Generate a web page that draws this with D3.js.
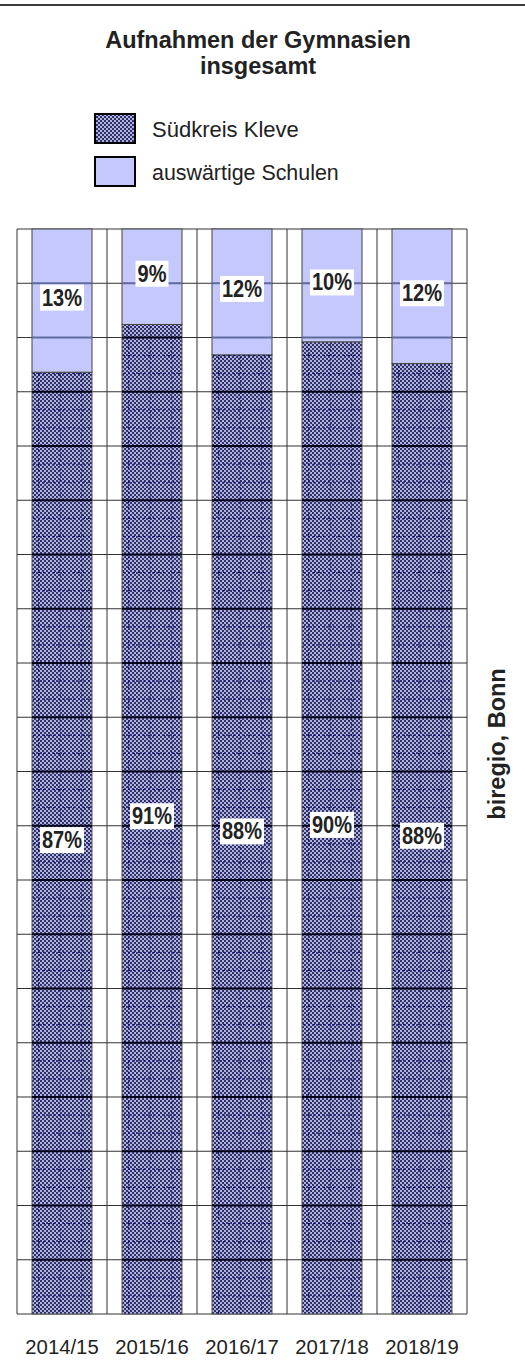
<!DOCTYPE html>
<html>
<head>
<meta charset="utf-8">
<script src="https://cdn.jsdelivr.net/npm/d3@7"></script>
<style>
    body { margin: 0; background: #fff; }
    svg text { font-family: "Liberation Sans", Arial, sans-serif; }
</style>
</head>
<body>
<div class="chart"></div>
<script>
const categories = ["2014/15", "2015/16", "2016/17", "2017/18", "2018/19"];
const suedkreis = [86.8, 91.2, 88.4, 89.6, 87.6];
const auswaertig = [13.2, 8.8, 11.6, 10.4, 12.4];
const seriesNames = ["Südkreis Kleve", "auswärtige Schulen"];
const yTicks = d3.range(0, 101, 5);

const width = 525, height = 1371;
const plot = { left: 17, right: 467, top: 229, bottom: 1314 };
const lightColor = "#c4c8fc";

const svg = d3.select(".chart")
    .append("svg")
    .attr("width", width)
    .attr("height", height);

svg.append("rect").attr("width", width).attr("height", height).attr("fill", "#fff");

// checkered fill used for the Südkreis segment
const defs = svg.append("defs");
const pat = defs.append("pattern")
    .attr("id", "checker")
    .attr("patternUnits", "userSpaceOnUse")
    .attr("width", 4).attr("height", 4);
pat.append("rect").attr("width", 4).attr("height", 4).attr("fill", "#aeb2ea");
pat.append("rect").attr("width", 2).attr("height", 2).attr("fill", "#32325a");
pat.append("rect").attr("x", 2).attr("y", 2).attr("width", 2).attr("height", 2).attr("fill", "#32325a");

// top rule
svg.append("line")
    .attr("x1", 0).attr("x2", width).attr("y1", 5).attr("y2", 5)
    .attr("stroke", "#3a3a3a").attr("stroke-width", 2);

// Title
svg.append("text")
    .attr("x", 258).attr("y", 48)
    .attr("text-anchor", "middle")
    .attr("font-weight", "bold").attr("font-size", 23.5).attr("fill", "#222")
    .text("Aufnahmen der Gymnasien");
svg.append("text")
    .attr("x", 258).attr("y", 74)
    .attr("text-anchor", "middle")
    .attr("font-weight", "bold").attr("font-size", 23.5).attr("fill", "#222")
    .text("insgesamt");

// Legend
const legend = svg.append("g");
[0, 1].forEach((i) => {
    legend.append("rect")
        .attr("x", 95).attr("y", 114 + i * 43)
        .attr("width", 40).attr("height", 29)
        .attr("fill", i === 0 ? "url(#checker)" : lightColor)
        .attr("stroke", "#000").attr("stroke-width", 2);
    legend.append("text")
        .attr("x", 152).attr("y", 137 + i * 43)
        .attr("font-size", i === 0 ? 22 : 21.4).attr("fill", "#222")
        .text(seriesNames[i]);
});

// Scales
const scaleX = d3.scaleBand()
    .domain(categories)
    .range([plot.left, plot.right])
    .paddingInner(1 / 3)
    .paddingOuter(1 / 6);

const scaleY = d3.scaleLinear()
    .domain([0, 100])
    .range([plot.bottom, plot.top]);

const bandStart = (c) => scaleX(c) - scaleX.bandwidth() / 4;

// Grid: horizontal lines
svg.append("g")
    .selectAll("line")
    .data(yTicks)
    .enter().append("line")
    .attr("x1", plot.left).attr("x2", plot.right)
    .attr("y1", (d) => scaleY(d)).attr("y2", (d) => scaleY(d))
    .attr("stroke", "#333").attr("stroke-width", 1);

// Grid: vertical lines at category boundaries
const vlines = categories.map((c) => bandStart(c)).concat([plot.right]);
svg.append("g")
    .selectAll("line")
    .data(vlines)
    .enter().append("line")
    .attr("x1", (d) => d).attr("x2", (d) => d)
    .attr("y1", plot.top).attr("y2", plot.bottom)
    .attr("stroke", "#333").attr("stroke-width", 1);

// Bars
const bars = svg.append("g");
categories.forEach((c, i) => {
    const x = scaleX(c), w = scaleX.bandwidth();
    const yDark = scaleY(suedkreis[i]);
    const yLight = scaleY(suedkreis[i] + auswaertig[i]);

    bars.append("rect")
        .attr("x", x).attr("y", yDark)
        .attr("width", w).attr("height", scaleY(0) - yDark)
        .attr("fill", "url(#checker)")
        .attr("stroke", "#555").attr("stroke-width", 1);

    bars.append("rect")
        .attr("x", x).attr("y", yLight)
        .attr("width", w).attr("height", yDark - yLight)
        .attr("fill", lightColor)
        .attr("stroke", "#444").attr("stroke-width", 1);

    // fine dotted grid inside the dark segment
    const sub = [];
    yTicks.slice(0, -1).forEach((t) => {
        [5 / 3, 10 / 3].forEach((o) => { if (t + o < suedkreis[i]) sub.push(t + o); });
    });
    bars.append("g")
        .selectAll("line")
        .data(sub)
        .enter().append("line")
        .attr("x1", x + 1).attr("x2", x + w - 1)
        .attr("y1", (d) => scaleY(d)).attr("y2", (d) => scaleY(d))
        .attr("stroke", "#0a0a70").attr("stroke-width", 1)
        .attr("stroke-dasharray", "2,3");
    bars.append("g")
        .selectAll("line")
        .data([0.11, 0.47, 0.83])
        .enter().append("line")
        .attr("x1", (d) => x + w * d).attr("x2", (d) => x + w * d)
        .attr("y1", yDark + 2).attr("y2", scaleY(0))
        .attr("stroke", "#0a0a70").attr("stroke-width", 1)
        .attr("stroke-dasharray", "2,3");

    // grid lines showing through the bars
    bars.append("g")
        .selectAll("line")
        .data(yTicks.filter((t) => t > 0 && t < 100))
        .enter().append("line")
        .attr("x1", x).attr("x2", x + w)
        .attr("y1", (d) => scaleY(d)).attr("y2", (d) => scaleY(d))
        .attr("stroke", (d) => d < suedkreis[i] ? "#000018" : "#5f6a9d")
        .attr("stroke-width", 2);
});

// Value labels (narrow bold type, white box behind)
const labels = svg.append("g");
const sx = 0.87;
const addLabel = (cx, cy, txt) => {
    const g = labels.append("g").attr("transform", `translate(${cx},${cy})`);
    const box = g.append("rect").attr("fill", "#fff");
    const t = g.append("text")
        .attr("transform", `scale(${sx},1)`)
        .attr("text-anchor", "middle")
        .attr("dominant-baseline", "central")
        .attr("font-weight", "bold").attr("font-size", 23).attr("fill", "#222")
        .text(txt);
    const bb = t.node().getBBox();
    box.attr("x", bb.x * sx - 2).attr("y", -13)
        .attr("width", bb.width * sx + 4).attr("height", 26);
};
categories.forEach((c, i) => {
    const cx = scaleX(c) + scaleX.bandwidth() / 2;
    addLabel(cx, scaleY(suedkreis[i] / 2) - 3, d3.format(".0f")(suedkreis[i]) + "%");
    addLabel(cx, scaleY(suedkreis[i] + auswaertig[i] / 2) - 3, d3.format(".0f")(auswaertig[i]) + "%");
});

// X axis labels
svg.append("g")
    .selectAll("text")
    .data(categories)
    .enter().append("text")
    .attr("x", (d) => scaleX(d) + scaleX.bandwidth() / 2)
    .attr("y", 1354)
    .attr("text-anchor", "middle")
    .attr("font-size", 20.3).attr("fill", "#222")
    .text((d) => d);

// Source note
svg.append("text")
    .attr("transform", "translate(505,744) rotate(-90)")
    .attr("text-anchor", "middle")
    .attr("font-weight", "bold").attr("font-size", 23.5).attr("fill", "#222")
    .text("biregio, Bonn");
</script>
</body>
</html>
